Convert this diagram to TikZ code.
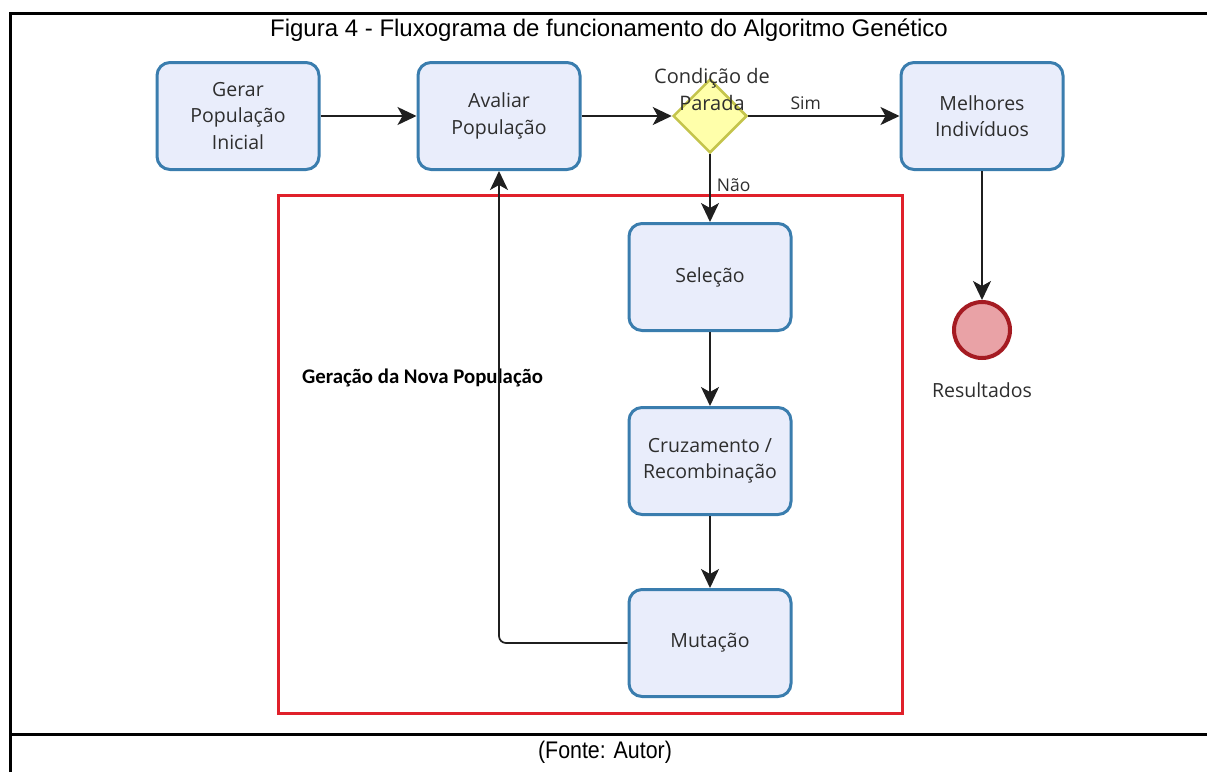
\documentclass[tikz,border=0pt]{standalone}
\usepackage{fontspec}
\setmainfont{Liberation Sans}
\newfontfamily\diagfont{Open Sans}
\newfontfamily\boldfont{Carlito}
\usetikzlibrary{shapes.geometric,arrows.meta}
\definecolor{boxblue}{HTML}{3A7DAE}
\definecolor{boxfill}{HTML}{E9EDFB}
\definecolor{diafill}{HTML}{FFFFAA}
\definecolor{diadraw}{HTML}{C4C44C}
\definecolor{endfill}{HTML}{E9A2A6}
\definecolor{enddraw}{HTML}{A51B22}
\definecolor{framered}{HTML}{E0202A}
\definecolor{txtgray}{HTML}{2E2E2E}
\tikzset{
  stepbox/.style={draw=boxblue, line width=3pt, fill=boxfill, rounded corners=13pt,
    minimum width=162pt, minimum height=107pt, align=center, text=txtgray,
    font=\diagfont\fontsize{19.5}{26.5}\selectfont, inner sep=0pt},
  decision/.style={diamond, draw=diadraw, line width=2.5pt, fill=diafill,
    minimum width=74pt, minimum height=74pt, inner sep=0pt},
  endevent/.style={circle, draw=enddraw, line width=4pt, fill=endfill,
    minimum size=56pt, inner sep=0pt},
  lbl/.style={text=txtgray, font=\diagfont\fontsize{17.5}{26}\selectfont, align=center, inner sep=0pt},
  conn/.style={draw=black!88, line width=1.7pt, -{Stealth[length=19pt,width=18pt,inset=5pt]}},
}
\begin{document}
\begin{tikzpicture}[x=1pt,y=-1pt]
\useasboundingbox (0,0) rectangle (1207,772);
% outer frame
\draw[line width=3pt] (10,772) -- (10,13) -- (1210,13);
\draw[line width=3pt] (10,734) -- (1210,734);
\node[font=\fontsize{24}{28}\selectfont] (title) at (609,30) {Figura 4 - Fluxograma de funcionamento do Algoritmo Genético};
\node[font=\fontsize{24}{28}\selectfont] (fonte) at (605,752) {\scalebox{0.89}[1]{(Fonte: Autor)}};
% red frame
\draw[draw=framered, line width=3pt] (278,195) rectangle (902,713);
\node[font=\boldfont\bfseries\fontsize{20.8}{24}\selectfont, anchor=west, inner sep=0pt] (gen) at (302,378) {Geração da Nova População};
% nodes
\node[stepbox] (ger) at (238,116) {Gerar\\População\\Inicial};
\node[stepbox] (aval) at (499,116) {Avaliar\\População};
\node[decision] (dia) at (710,116) {};
\node[lbl, font=\diagfont\fontsize{20}{27}\selectfont] (cond) at (712,89) {Condição de\\Parada};
\node[stepbox] (mel) at (982,116) {Melhores\\Indivíduos};
\node[stepbox] (sel) at (710,277) {Seleção};
\node[stepbox] (cruz) at (710,461) {Cruzamento /\\Recombinação};
\node[stepbox] (mut) at (710,643) {Mutação};
\node[endevent] (res) at (982,330) {};
\node[lbl, font=\diagfont\fontsize{19.5}{26}\selectfont] (reslbl) at (982,390) {Resultados};
% connectors
\draw[conn] (ger.east) -- (aval.west);
\draw[conn] (aval.east) -- (dia.west);
\draw[conn] (dia.east) -- node[lbl, pos=0.38, above=5pt] (sim) {Sim} (mel.west);
\draw[conn] (dia.south) -- node[lbl, pos=0.45, right=6pt] (nao) {Não} (sel.north);
\draw[conn] (sel.south) -- (cruz.north);
\draw[conn] (cruz.south) -- (mut.north);
\draw[conn, rounded corners=7pt] (mut.west) -| (aval.south);
\draw[conn] (mel.south) -- (res.north);
\end{tikzpicture}
\end{document}
